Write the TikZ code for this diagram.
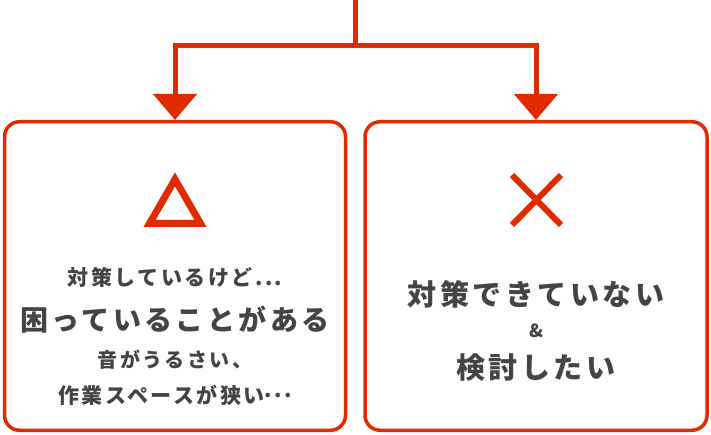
\documentclass[tikz,border=0pt]{standalone}
\usepackage{fontspec}
\newfontfamily\jpfont{Noto Sans CJK JP}[LetterSpace=12]
\usetikzlibrary{arrows.meta, positioning}
\definecolor{markred}{RGB}{224, 42, 0}
\definecolor{textgray}{RGB}{68, 68, 68}
\tikzstyle{choicebox} = [
    rectangle,
    rounded corners=15pt,
    minimum width=341pt,
    minimum height=308.5pt,
    draw=markred,
    line width=3.5pt,
    fill=white
]
\tikzstyle{arrow} = [
    -{Triangle[width=43pt,length=26pt]},
    line width=5pt,
    color=markred
]
\tikzstyle{markline} = [
    line width=7pt,
    color=markred
]
\tikzstyle{bigtext} = [font=\jpfont\bfseries\fontsize{28}{30}\selectfont, text=textgray]
\tikzstyle{smalltext} = [font=\jpfont\bfseries\fontsize{20}{22}\selectfont, text=textgray]

\begin{document}
\begin{tikzpicture}[x=1pt, y=-1pt]

\useasboundingbox (0,0) rectangle (711,435);

% Boxes
\node[choicebox] (leftbox) at (175, 276) {};
\node[choicebox, minimum width=342pt] (rightbox) at (536, 276) {};

% Branching arrows
\coordinate (top) at (355, 0);
\coordinate (split) at (355, 45.5);
\draw[line width=5pt, color=markred] (top) -- (split);
\draw[arrow] (split) -| (leftbox.north);
\draw[arrow] (split) -| (rightbox.north);

% Left box: triangle mark
\draw[markline, line join=miter] (175, 179.4) -- (200.5, 223.5) -- (149.5, 223.5) -- cycle;

\node[smalltext, font=\jpfont\bfseries\fontsize{21}{23}\selectfont] (leftline1) at (leftbox.center) [yshift=-1.5pt] {対策しているけど...};
\node[bigtext] (leftline2) at (leftbox.center) [yshift=-44pt] {困っていることがある};
\node[smalltext] (leftline3) at (leftbox.center) [yshift=-84pt] {音がうるさい、};
\node[smalltext, font=\jpfont\bfseries\fontsize{21}{23}\selectfont] (leftline4) at (leftbox.center) [yshift=-119pt] {作業スペースが狭い\raisebox{6pt}{...}};

% Right box: cross mark
\draw[markline, line width=6pt] (512, 175) -- (561, 225) (561, 175) -- (512, 225);

\node[bigtext, font=\jpfont\bfseries\fontsize{29}{31}\selectfont] (rightline1) at (rightbox.center) [yshift=-18.5pt] {対策できていない};
\node[smalltext, font=\jpfont\bfseries\fontsize{18}{20}\selectfont] (rightamp) at (rightbox.center) [yshift=-55pt] {\&};
\node[bigtext, font=\jpfont\bfseries\fontsize{29}{31}\selectfont] (rightline2) at (rightbox.center) [yshift=-91.5pt] {検討したい};

\end{tikzpicture}
\end{document}
